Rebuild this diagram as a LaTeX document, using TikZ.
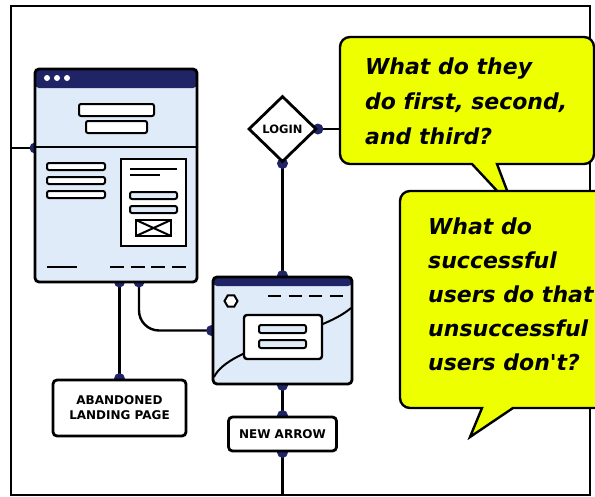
\documentclass[tikz,border=0pt]{standalone}
\usepackage{fontspec}
\newfontfamily\bubblefont[Ligatures=NoCommon]{DejaVu Sans}
\newfontfamily\labelfont{DejaVu Sans}
\usetikzlibrary{shapes.geometric,backgrounds}
\definecolor{navy}{HTML}{1F2466}
\definecolor{paleblue}{HTML}{DFEBF8}
\definecolor{bubbleyellow}{HTML}{EEFF00}
\tikzset{
  window/.style={draw=black, line width=2.8pt, rounded corners=4pt, fill=paleblue, inner sep=0pt},
  bar/.style={draw=black, line width=2pt, rounded corners=2pt, fill=white},
  labelbox/.style={draw=black, line width=2.8pt, rounded corners=4pt, fill=white, inner sep=0pt, align=center,
    font=\labelfont\bfseries\fontsize{12}{15}\selectfont},
  link/.style={draw=black, line width=2.4pt},
  port/.style={fill=navy},
  balloon/.style={draw=black, line width=2.4pt, fill=bubbleyellow},
  question/.style={inner sep=0pt, align=left, anchor=north west},
}
\begin{document}
\begin{tikzpicture}[x=1pt,y=-1pt]
    \useasboundingbox (0,0) rectangle (595,496);
    \draw [line width=2.2pt] (11,6) rectangle (590,495);

    % landing page screen
    \node [window, minimum width=162pt, minimum height=213pt,
      path picture={\fill[navy] (path picture bounding box.north west) rectangle ([yshift=-19pt]path picture bounding box.north east);}]
      at (116,175.5) (landing) {};
    \foreach \x in {47,57,67}
      \fill [white] (\x,78) circle (3pt);
    \draw [line width=2.4pt] (35,147) -- (197,147);
    \draw [bar] (79,104) rectangle (154,116);
    \draw [bar] (86,121) rectangle (147,133);
    \foreach \y in {163,177,191}
      \draw [bar] (47,\y) rectangle (105,\y+7);
    \draw [line width=2.2pt, fill=white] (121,159) rectangle (186,246);
    \draw [line width=1.8pt] (130,169) -- (177,169);
    \draw [line width=1.8pt] (130,175) -- (160,175);
    \draw [bar, fill=paleblue] (130,192) rectangle (177,199);
    \draw [bar, fill=paleblue] (130,206) rectangle (177,213);
    \draw [line width=2.2pt, fill=white] (136,220) rectangle (171,236);
    \draw [line width=2pt] (136,220) -- (171,236) (136,236) -- (171,220);
    \draw [line width=2.4pt] (47,267) -- (77,267);
    \draw [line width=2.4pt, dash pattern=on 14pt off 6.67pt] (110,267) -- (186,267);
    \coordinate (lp) at (35,148);
    \coordinate (p1) at (119.5,282);
    \coordinate (p2) at (139,282);
    \coordinate (fl) at (11,148);

    % login form screen
    \node [window, minimum width=139pt, minimum height=107pt,
      path picture={\fill[navy] (path picture bounding box.north west) rectangle ([yshift=-9pt]path picture bounding box.north east);}]
      at (282.5,330.5) (form) {};
    \draw [line width=2pt] (214,377) .. controls (230,345) and (320,335) .. (351,308);
    \node [regular polygon, regular polygon sides=6, draw, line width=2pt, fill=white, minimum size=13pt, inner sep=0pt] at (231,301) (hex) {};
    \draw [line width=2.4pt, dash pattern=on 13pt off 7.7pt] (268,296) -- (344,296);
    \draw [line width=2.4pt, fill=white, rounded corners=3pt] (244,315) rectangle (322,359);
    \draw [bar, fill=paleblue] (259,325) rectangle (306,333);
    \draw [bar, fill=paleblue] (259,340) rectangle (306,348);

    \node [diamond, draw, line width=2.8pt, fill=white, minimum width=68pt, minimum height=66pt, inner sep=0pt,
      font=\labelfont\bfseries\fontsize{11.5}{12}\selectfont] at (282.5,129) (login) {LOGIN};
    \node [labelbox, minimum width=133pt, minimum height=56pt] at (119.5,408) (abandoned) {ABANDONED\\LANDING PAGE};
    \node [labelbox, minimum width=108pt, minimum height=34pt] at (282.5,434) (newarrow) {NEW ARROW};
    \coordinate (q1) at (341,129);
    \coordinate (fb) at (282.5,495);

    \begin{scope}[on background layer]
      \draw [link] (fl) -- (lp);
      \draw [link] (p1) -- (abandoned.north);
      \draw [link, rounded corners=20pt] (p2) |- (form.west);
      \draw [link] (login.south) -- (form.north);
      \draw [link] (login.east) -- (q1);
      \draw [link] (form.south) -- (newarrow.north);
      \draw [link] (newarrow.south) -- (fb);
      \foreach \p in {lp,p1,p2,abandoned.north,form.west,login.south,login.east,form.north,form.south,newarrow.north,newarrow.south}
        \fill [port] (\p) circle (5.5pt);
    \end{scope}

    % questions
    \draw [balloon] (472,164) [rounded corners=10pt] -- (340,164) -- (340,37) -- (594,37) -- (594,164) [sharp corners] -- (497,164) -- (514,209) -- cycle;
    \node [question, font=\bubblefont\bfseries\itshape\fontsize{22}{35}\selectfont] at (365,58) (q1text) {What do they\\do first, second,\\and third?};
    \draw [balloon] (482,408) [rounded corners=10pt] -- (400,408) -- (400,191) -- (620,191) -- (620,408) [sharp corners] -- (513,408) -- (470,437) -- cycle;
    \node [question, font=\bubblefont\bfseries\itshape\fontsize{22}{34}\selectfont] at (428,218) (q2text) {What do\\successful\\users do that\\unsuccessful\\users don't?};
\end{tikzpicture}
\end{document}
